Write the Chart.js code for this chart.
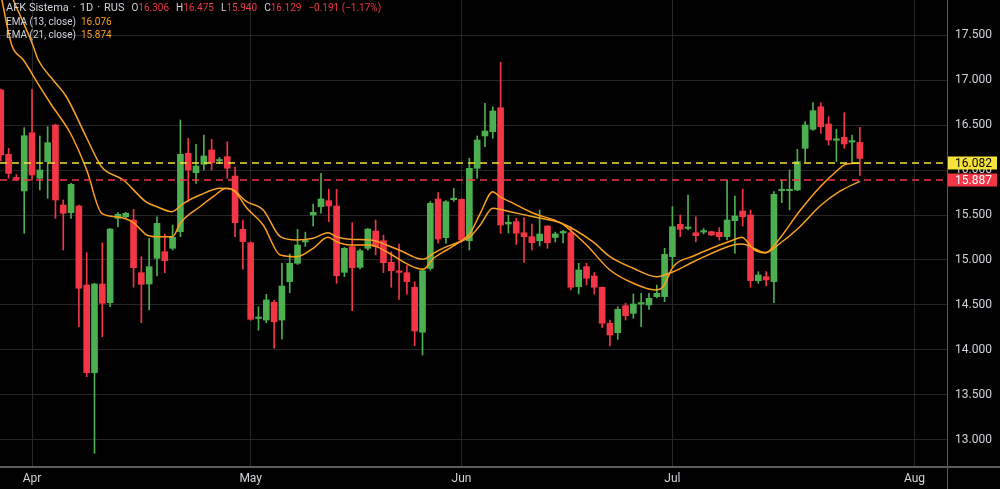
<!DOCTYPE html>
<html>
<head>
<meta charset="utf-8">
<script src="https://cdn.jsdelivr.net/npm/chart.js@4.4.1/dist/chart.umd.min.js"></script>
<style>
  html, body { margin: 0; padding: 0; background: #000; }
  #wrap { position: relative; width: 1000px; height: 489px; overflow: hidden; }
  #legend { position: absolute; left: 6px; top: 1px; font: 10px Roboto, sans-serif; color: #d1d4dc; line-height: 13.5px; white-space: nowrap; }
  #legend .title { font-size: 11px; }
  #legend .dot { margin: 0 4px; }
  #legend span.v { color: #f23645; }
  #legend span.g { margin-left: 7px; }
  #legend span.ema { color: #ff9f1a; margin-left: 5px; }
</style>
</head>
<body>
<div id="wrap">
  <canvas id="myChart" width="1000" height="489"></canvas>
  <div id="legend">
    <div><span class="title">AFK Sistema<span class="dot">·</span>1D<span class="dot">·</span>RUS</span><span class="g">O<span class="v">16.306</span></span><span class="g">H<span class="v">16.475</span></span><span class="g">L<span class="v">15.940</span></span><span class="g">C<span class="v">16.129</span></span><span class="g v">−0.191 (−1.17%)</span></div>
    <div>EMA (13, close)<span class="ema">16.076</span></div>
    <div>EMA (21, close)<span class="ema">15.874</span></div>
  </div>
</div>
<script>
// daily candles, index 0 = first visible bar
let open = [16.889,16.174,15.91,15.767,16.414,15.908,16.092,16.5,15.611,15.526,
    15.6,14.722,13.748,14.733,14.526,15.463,15.481,15.444,14.859,14.733,
    15.019,15.092,15.13,15.314,16.186,15.97,16.063,16.222,16.10,16.148,
    15.933,15.341,15.192,14.35,14.333,14.53,14.333,14.759,14.963,15.2,
    15.5,15.593,15.659,15.6,14.863,15.148,14.919,15.13,15.322,15.214,
    14.974,14.878,14.859,14.697,14.197,14.907,15.678,15.248,15.67,15.674,
    15.214,16.019,16.378,16.426,16.692,15.40,15.426,15.303,15.259,15.214,
    15.378,15.25,15.30,15.303,14.703,14.926,14.822,14.697,14.296,14.192,
    14.492,14.407,14.51,14.50,14.593,14.593,15.037,15.397,15.35,15.303,
    15.31,15.315,15.307,15.259,15.437,15.544,15.5,14.77,14.815,14.759,
    15.77,15.77,15.778,16.241,16.452,16.703,16.511,16.33,16.363,16.31,16.306];
let high = [16.90,16.241,15.95,16.47,16.897,16.378,16.481,16.51,15.667,15.852,
    15.61,15.081,14.74,15.192,15.35,15.526,15.53,15.563,15.037,15.241,
    15.481,15.289,15.389,16.556,16.352,16.286,16.389,16.341,16.14,16.314,
    16.03,15.444,15.2,14.48,14.619,14.556,14.963,15.067,15.341,15.31,
    15.622,15.963,15.786,15.786,15.14,15.415,15.12,15.35,15.444,15.278,
    15.092,15.178,14.937,14.759,14.9,15.65,15.748,15.66,15.797,15.68,
    16.13,16.378,16.741,16.703,17.197,15.50,15.463,15.47,15.40,15.556,
    15.38,15.31,15.33,15.37,14.963,14.963,14.86,14.70,14.333,14.48,
    14.52,14.622,14.63,14.63,14.72,15.13,15.593,15.5,15.722,15.48,
    15.35,15.32,15.36,15.889,15.711,15.786,15.556,14.87,14.87,15.759,
    15.889,16.0,16.23,16.537,16.748,16.748,16.592,16.452,16.637,16.389,16.475];
let low = [16.10,15.908,15.88,15.297,15.889,15.778,15.686,15.463,15.111,15.463,
    14.259,13.703,12.852,14.148,14.481,15.37,15.47,14.697,14.303,14.444,
    14.822,14.859,15.111,15.259,15.648,15.852,16.0,16.0,16.07,15.908,
    15.259,14.897,14.33,14.22,14.303,14.019,14.119,14.637,14.95,15.15,
    15.378,15.519,15.426,14.741,14.815,14.437,14.9,15.11,15.056,14.859,
    14.697,14.563,14.619,14.048,13.944,14.89,15.186,15.186,15.65,15.2,
    15.111,15.908,16.259,16.352,15.297,15.30,15.174,14.974,15.111,15.156,
    15.13,15.2,15.19,14.667,14.622,14.722,14.622,14.252,14.044,14.119,
    14.333,14.352,14.26,14.45,14.58,14.537,14.926,15.259,15.333,15.2,
    15.29,15.27,15.222,15.222,15.074,15.378,14.697,14.74,14.711,14.526,
    15.637,15.556,15.77,16.093,16.44,16.407,16.278,16.093,16.241,16.081,15.94];
let close = [16.167,15.963,15.90,16.381,15.944,16.0,16.303,15.667,15.519,15.841,
    14.686,13.748,14.733,14.519,15.344,15.508,15.519,14.914,14.73,14.926,
    15.407,14.993,15.252,16.174,16.0,16.044,16.156,16.081,16.11,16.019,
    15.415,15.204,14.341,14.36,14.556,14.314,14.711,14.963,15.167,15.21,
    15.53,15.678,15.6,14.826,15.13,14.914,15.103,15.344,15.148,14.97,
    14.881,14.862,14.759,14.211,14.881,15.63,15.233,15.648,15.68,15.222,
    16.019,16.333,16.433,16.656,15.389,15.42,15.297,15.259,15.192,15.289,
    15.192,15.29,15.31,14.697,14.889,14.797,14.697,14.297,14.167,14.452,
    14.381,14.511,14.52,14.574,14.63,15.063,15.37,15.341,15.36,15.27,
    15.32,15.278,15.259,15.444,15.489,15.481,14.77,14.833,14.778,15.73,
    15.78,15.785,16.093,16.5,16.659,16.481,16.333,16.345,16.289,16.32,16.129];

// EMA lines (bar index, price)
let ema13X = [0,1.4,2.9,5,6.5,8.9,11,12.9,14.8,16.9,18.7,20,22,23,25.5,27.2,28.9,30,31.5,33.6,35.8,37.9,40,41.9,43,44.7,47.3,49.4,51.5,53.3,54.1,55.4,57.1,58.8,60.1,61.4,63,63.9,65.2,68.2,71.8,72.9,75,78,81,83.8,84.8,86.1,88.7,93.8,94.9,96.4,97.9,99.4,102.3,104.9,106.9,108.3,110];
let ema13Y = [17.95,17.389,17.222,16.926,16.722,16.411,16.0,15.522,15.481,15.422,15.278,15.259,15.259,15.411,15.592,15.703,15.797,15.759,15.578,15.389,15.056,15.037,15.13,15.252,15.203,15.167,15.167,15.092,14.981,14.908,14.897,15.019,15.111,15.203,15.297,15.519,15.759,15.703,15.648,15.519,15.408,15.333,15.167,14.889,14.741,14.667,14.703,14.926,15.044,15.222,15.252,15.119,15.078,15.203,15.544,15.811,15.978,16.067,16.076];
let ema21X = [1.6,4.1,4.8,6.7,8.4,11,12.9,15.7,18.7,20,21.9,23.4,25.5,28.1,29.4,31.5,33.6,35.8,37.9,40,41.9,43,44.7,47.3,49.4,51.5,53.3,54.1,55.4,57.1,58.8,60.1,61.4,63,63.9,65.2,68.2,71.8,75.8,78,81,84,86.1,88.7,93.8,94.9,97.9,99.8,102.3,104.9,107.5,110];
let ema21Y = [17.889,17.389,17.222,17.0,16.814,16.356,16.037,15.889,15.639,15.592,15.537,15.63,15.722,15.797,15.792,15.648,15.556,15.259,15.222,15.241,15.303,15.259,15.23,15.222,15.167,15.092,15.019,15.008,15.074,15.148,15.203,15.259,15.389,15.574,15.563,15.537,15.481,15.408,15.203,15.037,14.908,14.814,14.87,14.981,15.167,15.178,15.083,15.186,15.367,15.6,15.767,15.874];

let monthIdx = [4, 32, 59, 86, 117];
let monthLabels = ['Apr', 'May', 'Jun', 'Jul', 'Aug'];
let yTicks = [13, 13.5, 14, 14.5, 15, 15.5, 16, 16.5, 17, 17.5];
let priceLines = [
    { value: 16.082, color: '#f5e23c', text: '#000000' },
    { value: 15.887, color: '#f23645', text: '#ffffff' }
];

const GREEN = '#4caf50', RED = '#f23645';
let colors = close.map((c, i) => c >= open[i] ? GREEN : RED);

// no label padding around the plot, the plot fills the canvas
function noPad(axis) {
    axis.paddingTop = 0;
    axis.paddingBottom = 0;
    axis.paddingLeft = 0;
    axis.paddingRight = 0;
}

const overlay = {
    id: 'overlay',
    afterDatasetsDraw(chart) {
        const { ctx, chartArea, scales } = chart;
        ctx.save();
        ctx.lineWidth = 1.5;
        ctx.setLineDash([7, 5]);
        priceLines.forEach(p => {
            let py = Math.round(scales.y.getPixelForValue(p.value));
            ctx.strokeStyle = p.color;
            ctx.beginPath();
            ctx.moveTo(chartArea.left, py);
            ctx.lineTo(chartArea.right, py);
            ctx.stroke();
        });
        ctx.restore();
    },
    afterDraw(chart) {
        const { ctx, chartArea, scales } = chart;
        ctx.save();
        // axis separators
        ctx.strokeStyle = '#5a5a5a';
        ctx.lineWidth = 2;
        ctx.beginPath();
        ctx.moveTo(0, chartArea.bottom + 1);
        ctx.lineTo(chart.width, chartArea.bottom + 1);
        ctx.stroke();
        ctx.lineWidth = 1;
        ctx.beginPath();
        ctx.moveTo(chartArea.right + 0.5, 0);
        ctx.lineTo(chartArea.right + 0.5, chart.height);
        ctx.stroke();
        // price labels on the scale
        ctx.font = '12px Roboto';
        ctx.textBaseline = 'middle';
        priceLines.forEach(p => {
            let py = Math.round(scales.y.getPixelForValue(p.value));
            ctx.fillStyle = p.color;
            ctx.fillRect(chartArea.right + 1, py - 6.5, 49, 13);
            ctx.fillStyle = p.text;
            ctx.fillText(p.value.toFixed(3), chartArea.right + 8, py + 0.5);
        });
        ctx.restore();
    }
};

const ctx = document.getElementById('myChart').getContext('2d');
let myChart = new Chart(ctx, {
    type: 'bar',
    data: {
        datasets: [
            {
                type: 'line',
                label: 'EMA 13',
                data: ema13X.map((x, k) => ({ x: x, y: ema13Y[k] })),
                borderColor: '#ff9f1a',
                borderWidth: 1.5,
                pointRadius: 0,
                cubicInterpolationMode: 'monotone',
                order: 1
            },
            {
                type: 'line',
                label: 'EMA 21',
                data: ema21X.map((x, k) => ({ x: x, y: ema21Y[k] })),
                borderColor: '#f7a326',
                borderWidth: 1.5,
                pointRadius: 0,
                cubicInterpolationMode: 'monotone',
                order: 2
            },
            {
                label: 'body',
                data: close.map((c, i) => ({ x: i, y: [open[i], c] })),
                backgroundColor: colors,
                barThickness: 6,
                minBarLength: 1.5,
                grouped: false,
                order: 3
            },
            {
                label: 'wick',
                data: close.map((c, i) => ({ x: i, y: [low[i], high[i]] })),
                backgroundColor: colors,
                barThickness: 1,
                grouped: false,
                order: 4
            }
        ]
    },
    options: {
        responsive: false,
        devicePixelRatio: 1,
        animation: false,
        layout: { padding: 0, autoPadding: false },
        plugins: { legend: { display: false }, tooltip: { enabled: false } },
        scales: {
            x: {
                type: 'linear',
                min: -0.1,
                max: 121.16,
                offset: false,
                afterFit: axis => { axis.height = 23; noPad(axis); },
                afterBuildTicks: axis => { axis.ticks = monthIdx.map(v => ({ value: v })); },
                ticks: {
                    autoSkip: false,
                    maxRotation: 0,
                    padding: 6,
                    color: '#d1d4dc',
                    font: { family: 'Roboto', size: 12 },
                    callback: v => monthLabels[monthIdx.indexOf(v)]
                },
                grid: { color: '#262626', drawTicks: false, offset: false },
                border: { display: false }
            },
            y: {
                position: 'right',
                min: 12.711,
                max: 17.889,
                afterFit: axis => { axis.width = 53; noPad(axis); },
                afterBuildTicks: axis => { axis.ticks = yTicks.map(v => ({ value: v })); },
                ticks: {
                    padding: 8,
                    color: '#d1d4dc',
                    font: { family: 'Roboto', size: 12 },
                    callback: v => v.toFixed(3)
                },
                grid: { color: '#262626', drawTicks: false },
                border: { display: false }
            }
        }
    },
    plugins: [overlay]
});
</script>
</body>
</html>
